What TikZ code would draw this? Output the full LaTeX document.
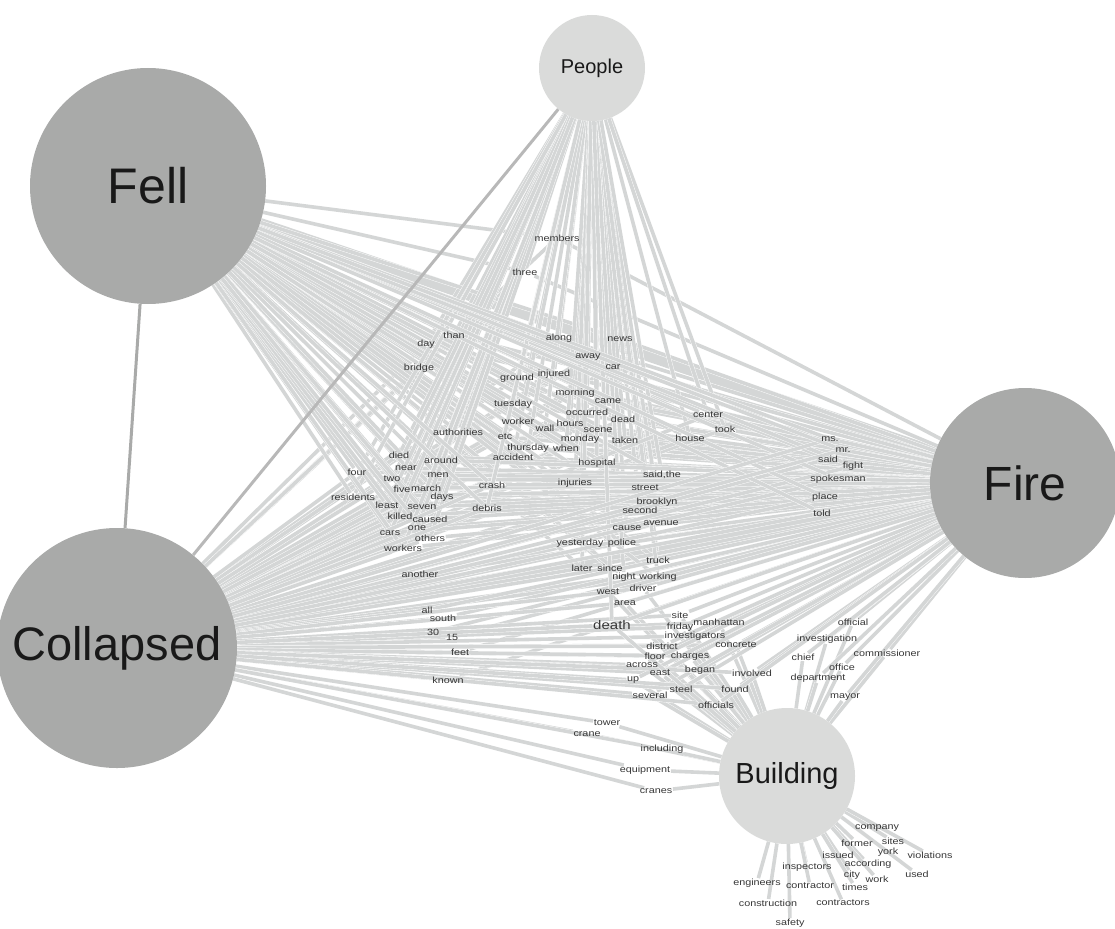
\documentclass[tikz,border=0pt]{standalone}
\usepackage{fontspec}
\setmainfont{Liberation Sans}
\newfontfamily\wordfont[FakeStretch=1.2]{Liberation Sans}
\usetikzlibrary{backgrounds}

\definecolor{hubdark}{RGB}{169,170,169}
\definecolor{hublight}{RGB}{218,219,218}
\definecolor{edgegray}{RGB}{212,214,214}
\definecolor{wordgray}{RGB}{55,55,55}

\tikzstyle{hubnode}=[circle,
                     inner sep=0pt,
                     text=black!90]
\tikzstyle{wordnode}=[inner sep=0.5pt,
                      text=wordgray,
                      font=\wordfont\fontsize{9}{9}\selectfont]
\tikzstyle{edgeline}=[draw=white,
                      line width=0.4pt,
                      double=edgegray,
                      double distance=3.6pt]
\tikzstyle{hubline}=[line width=3pt]

\begin{document}
\begin{tikzpicture}[x=1pt,y=-1pt]
    \useasboundingbox (0,0) rectangle (1115,928);

    % the five hubs
    \node [hubnode, fill=hublight, minimum size=106pt, font=\fontsize{20}{20}\selectfont] (people) at (592,68) {People};
    \node [hubnode, fill=hubdark, minimum size=236pt, font=\fontsize{50}{50}\selectfont] (fell) at (148,186) {Fell};
    \node [hubnode, fill=hubdark, minimum size=190pt, font=\fontsize{48}{48}\selectfont] (fire) at (1025,483) {Fire};
    \node [hubnode, fill=hubdark, minimum size=240pt, font=\fontsize{47}{47}\selectfont] (collapsed) at (117,648) {Collapsed};
    \node [hubnode, fill=hublight, minimum size=136pt, font=\fontsize{29}{29}\selectfont] (building) at (787,776) {Building};

    \begin{pgfonlayer}{background}
        \draw [edgegray, line width=12pt] (fell) -- (fire);
        \draw [edgegray, line width=12pt] (collapsed) -- (fire);
    \end{pgfonlayer}

    % words in the middle, tied to people, fell, collapsed and fire
    \foreach \n/\x/\y in {members/557/238, three/525/272, than/454/335, day/426/344,
        bridge/419/368, along/559/338, news/620/339, away/588/357, car/613/367,
        ground/517/378, injured/554/374, morning/575/393, came/608/401,
        tuesday/513/404, occurred/587/412, worker/518/421, dead/623/419,
        wall/545/428, hours/570/423, scene/598/430, authorities/458/432,
        etc/505/437, monday/580/439, taken/625/440, thursday/528/448,
        when/566/448, accident/513/457, hospital/597/463, took/725/429,
        house/690/438, injuries/575/483, street/645/488, brooklyn/657/502,
        second/640/510, avenue/661/523, cause/627/528, yesterday/580/543,
        police/622/543, truck/658/560, later/582/568, since/610/568,
        night/624/577, working/658/577}{
        \node [wordnode] (w-\n) at (\x,\y) {\n};
        \begin{pgfonlayer}{background}
            \draw [edgeline] (people) -- (w-\n);
            \draw [edgeline] (fell) -- (w-\n);
            \draw [edgeline] (collapsed) -- (w-\n);
            \draw [edgeline] (fire) -- (w-\n);
        \end{pgfonlayer}
    }
    \node [wordnode] (w-center) at (708,415) {center};
    \node [wordnode] (w-saidthe) at (662,475) {said,the};
    \begin{pgfonlayer}{background}
        \foreach \n in {center, saidthe}{
            \draw [edgeline] (people) -- (w-\n);
            \draw [edgeline] (fell) -- (w-\n);
            \draw [edgeline] (collapsed) -- (w-\n);
            \draw [edgeline] (fire) -- (w-\n);
        }
    \end{pgfonlayer}

    % words on the left
    \foreach \n/\x/\y in {died/399/455, around/441/460, near/406/468, four/357/472,
        men/438/475, two/392/479, five/402/489, march/426/488, days/442/497,
        residents/353/497, least/387/505, seven/422/507, killed/400/516,
        caused/430/519, one/417/528, cars/390/533, others/430/538,
        workers/403/548, crash/492/485, debris/487/508}{
        \node [wordnode] (w-\n) at (\x,\y) {\n};
        \begin{pgfonlayer}{background}
            \draw [edgeline] (people) -- (w-\n);
            \draw [edgeline] (fell) -- (w-\n);
            \draw [edgeline] (collapsed) -- (w-\n);
            \draw [edgeline] (fire) -- (w-\n);
        \end{pgfonlayer}
    }
    \foreach \n/\x/\y in {another/420/574, all/427/610, south/443/618,
        feet/460/652, known/448/680}{
        \node [wordnode] (w-\n) at (\x,\y) {\n};
        \begin{pgfonlayer}{background}
            \draw [edgeline] (collapsed) -- (w-\n);
            \draw [edgeline] (fire) -- (w-\n);
        \end{pgfonlayer}
    }
    \node [wordnode] (w-thirty) at (433,632) {30};
    \node [wordnode] (w-fifteen) at (452,637) {15};
    \begin{pgfonlayer}{background}
        \foreach \n in {thirty, fifteen}{
            \draw [edgeline] (collapsed) -- (w-\n);
            \draw [edgeline] (fire) -- (w-\n);
        }
    \end{pgfonlayer}

    % lower middle, tied to collapsed, fire and building
    \foreach \n/\x/\y in {west/608/592, driver/643/588, area/625/603,
        site/680/615, manhattan/719/622, friday/680/627, investigators/695/636,
        concrete/736/645, district/662/646, floor/655/656, charges/690/656,
        across/642/665, east/660/673, began/700/670, up/633/680,
        several/650/695, steel/681/689, involved/752/673, found/735/689,
        officials/716/705}{
        \node [wordnode] (w-\n) at (\x,\y) {\n};
        \begin{pgfonlayer}{background}
            \draw [edgeline] (collapsed) -- (w-\n);
            \draw [edgeline] (fire) -- (w-\n);
            \draw [edgeline] (building) -- (w-\n);
        \end{pgfonlayer}
    }
    \node [wordnode, font=\wordfont\fontsize{12.5}{12.5}\selectfont] (w-death) at (612,625) {death};
    \begin{pgfonlayer}{background}
        \draw [edgeline] (collapsed) -- (w-death);
        \draw [edgeline] (fire) -- (w-death);
        \draw [edgeline] (building) -- (w-death);
        \draw [edgeline] (people) -- (w-death);
    \end{pgfonlayer}

    % next to fire
    \foreach \n/\x/\y in {said/828/459, fight/853/466, spokesman/838/479,
        place/825/497, told/822/513}{
        \node [wordnode] (w-\n) at (\x,\y) {\n};
        \begin{pgfonlayer}{background}
            \draw [edgeline] (fell) -- (w-\n);
            \draw [edgeline] (collapsed) -- (w-\n);
            \draw [edgeline] (fire) -- (w-\n);
        \end{pgfonlayer}
    }
    \node [wordnode] (w-ms) at (830,439) {ms.};
    \node [wordnode] (w-mr) at (843,450) {mr.};
    \begin{pgfonlayer}{background}
        \foreach \n in {ms, mr}{
            \draw [edgeline] (fell) -- (w-\n);
            \draw [edgeline] (collapsed) -- (w-\n);
            \draw [edgeline] (fire) -- (w-\n);
        }
    \end{pgfonlayer}

    % between fire and building
    \foreach \n/\x/\y in {official/853/622, investigation/827/639,
        commissioner/887/653, chief/803/657, office/842/667,
        department/818/678, mayor/845/697}{
        \node [wordnode] (w-\n) at (\x,\y) {\n};
        \begin{pgfonlayer}{background}
            \draw [edgeline] (fire) -- (w-\n);
            \draw [edgeline] (building) -- (w-\n);
        \end{pgfonlayer}
    }

    % between collapsed and building
    \foreach \n/\x/\y in {tower/607/723, crane/587/734, including/662/749,
        equipment/645/770, cranes/656/791}{
        \node [wordnode] (w-\n) at (\x,\y) {\n};
        \begin{pgfonlayer}{background}
            \draw [edgeline] (collapsed) -- (w-\n);
            \draw [edgeline] (building) -- (w-\n);
        \end{pgfonlayer}
    }

    % below building
    \foreach \n/\x/\y in {company/877/828, former/857/843, sites/893/841,
        york/888/852, violations/930/855, issued/838/855, inspectors/807/867,
        according/868/864, city/852/875, work/877/879, used/917/874,
        engineers/757/883, contractor/810/886, times/855/887,
        construction/768/903, contractors/843/903, safety/790/923}{
        \node [wordnode] (w-\n) at (\x,\y) {\n};
        \begin{pgfonlayer}{background}
            \draw [edgeline] (building) -- (w-\n);
        \end{pgfonlayer}
    }

    % links between hubs
    \begin{pgfonlayer}{background}
        \draw [hubline, hubdark] (fell) -- (collapsed);
        \draw [hubline, black!28] (people) -- (collapsed);
    \end{pgfonlayer}
\end{tikzpicture}
\end{document}
